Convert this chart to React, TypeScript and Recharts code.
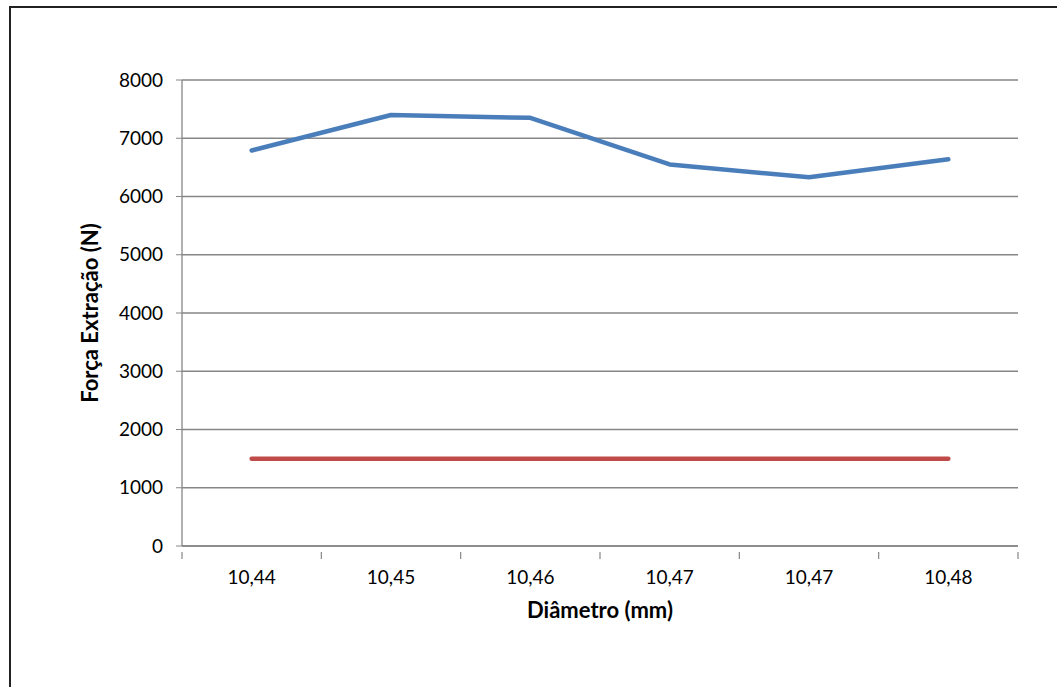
import React from "react";
import { LineChart, Line, XAxis, YAxis, CartesianGrid } from "recharts";

const categories = ["10,44", "10,45", "10,46", "10,47", "10,47", "10,48"];
const forcaExtracao = [6790, 7400, 7350, 6550, 6330, 6640];
const limite = [1500, 1500, 1500, 1500, 1500, 1500];
const yTicks = [0, 1000, 2000, 3000, 4000, 5000, 6000, 7000, 8000];

const data = categories.map((c, i) => ({
  idx: i,
  cat: c,
  forca: forcaExtracao[i],
  limite: limite[i],
}));

// category centres (labels) and category boundaries (tick marks)
const xTicks: number[] = [];
for (let i = 0; i <= categories.length * 2; i++) xTicks.push(i / 2 - 0.5);

const FONT = "Lato, 'Open Sans', sans-serif";
const AXIS = "#868686";

const XTick = (props: any) => {
  const { x, y, payload } = props;
  const v = payload.value as number;
  if (Number.isInteger(v)) {
    return (
      <text x={x} y={y + 30} textAnchor="middle" fontFamily={FONT} fontSize={19} fill="#000">
        {categories[v]}
      </text>
    );
  }
  return <line x1={x} x2={x} y1={y - 2} y2={y + 5} stroke={AXIS} strokeWidth={1.2} />;
};

export default function App() {
  return (
    <div style={{ position: "fixed", left: 0, top: 0, width: 1057, height: 687, background: "#fff", overflow: "hidden" }}>
      <div
        style={{
          position: "absolute",
          left: 9,
          top: 6,
          width: 1100,
          height: 720,
          borderLeft: "2px solid #222",
          borderTop: "2px solid #222",
        }}
      />
      <div style={{ position: "absolute", left: 0, top: 0 }}>
        <LineChart
          width={1057}
          height={687}
          data={data}
          margin={{ top: 80, right: 39, bottom: 101, left: 122 }}
        >
          <CartesianGrid vertical={false} stroke={AXIS} strokeWidth={1.3} />
          <XAxis
            dataKey="idx"
            type="number"
            domain={[-0.5, categories.length - 0.5]}
            ticks={xTicks}
            interval={0}
            height={40}
            axisLine={{ stroke: AXIS, strokeWidth: 1.3 }}
            tickLine={false}
            tick={<XTick />}
            label={{
              value: "Diâmetro (mm)",
              position: "insideBottom",
              offset: -32,
              style: { fontFamily: FONT, fontSize: 22, fontWeight: 700, fill: "#000" },
            }}
          />
          <YAxis
            domain={[0, 8000]}
            ticks={yTicks}
            width={60}
            interval={0}
            axisLine={{ stroke: AXIS, strokeWidth: 1.3 }}
            tickLine={{ stroke: AXIS }}
            tickSize={6}
            tickMargin={13}
            tick={{ fontFamily: FONT, fontSize: 19, fill: "#000" }}
            label={{
              value: "Força Extração (N)",
              angle: -90,
              position: "insideLeft",
              offset: -32,
              style: { fontFamily: FONT, fontSize: 22, fontWeight: 700, fill: "#000", textAnchor: "middle" },
            }}
          />
          <Line
            type="linear"
            dataKey="forca"
            stroke="#4a7ebb"
            strokeWidth={4.5}
            strokeLinecap="round"
            strokeLinejoin="round"
            dot={false}
            isAnimationActive={false}
          />
          <Line
            type="linear"
            dataKey="limite"
            stroke="#be4b48"
            strokeWidth={4.5}
            strokeLinecap="round"
            dot={false}
            isAnimationActive={false}
          />
        </LineChart>
      </div>
    </div>
  );
}
